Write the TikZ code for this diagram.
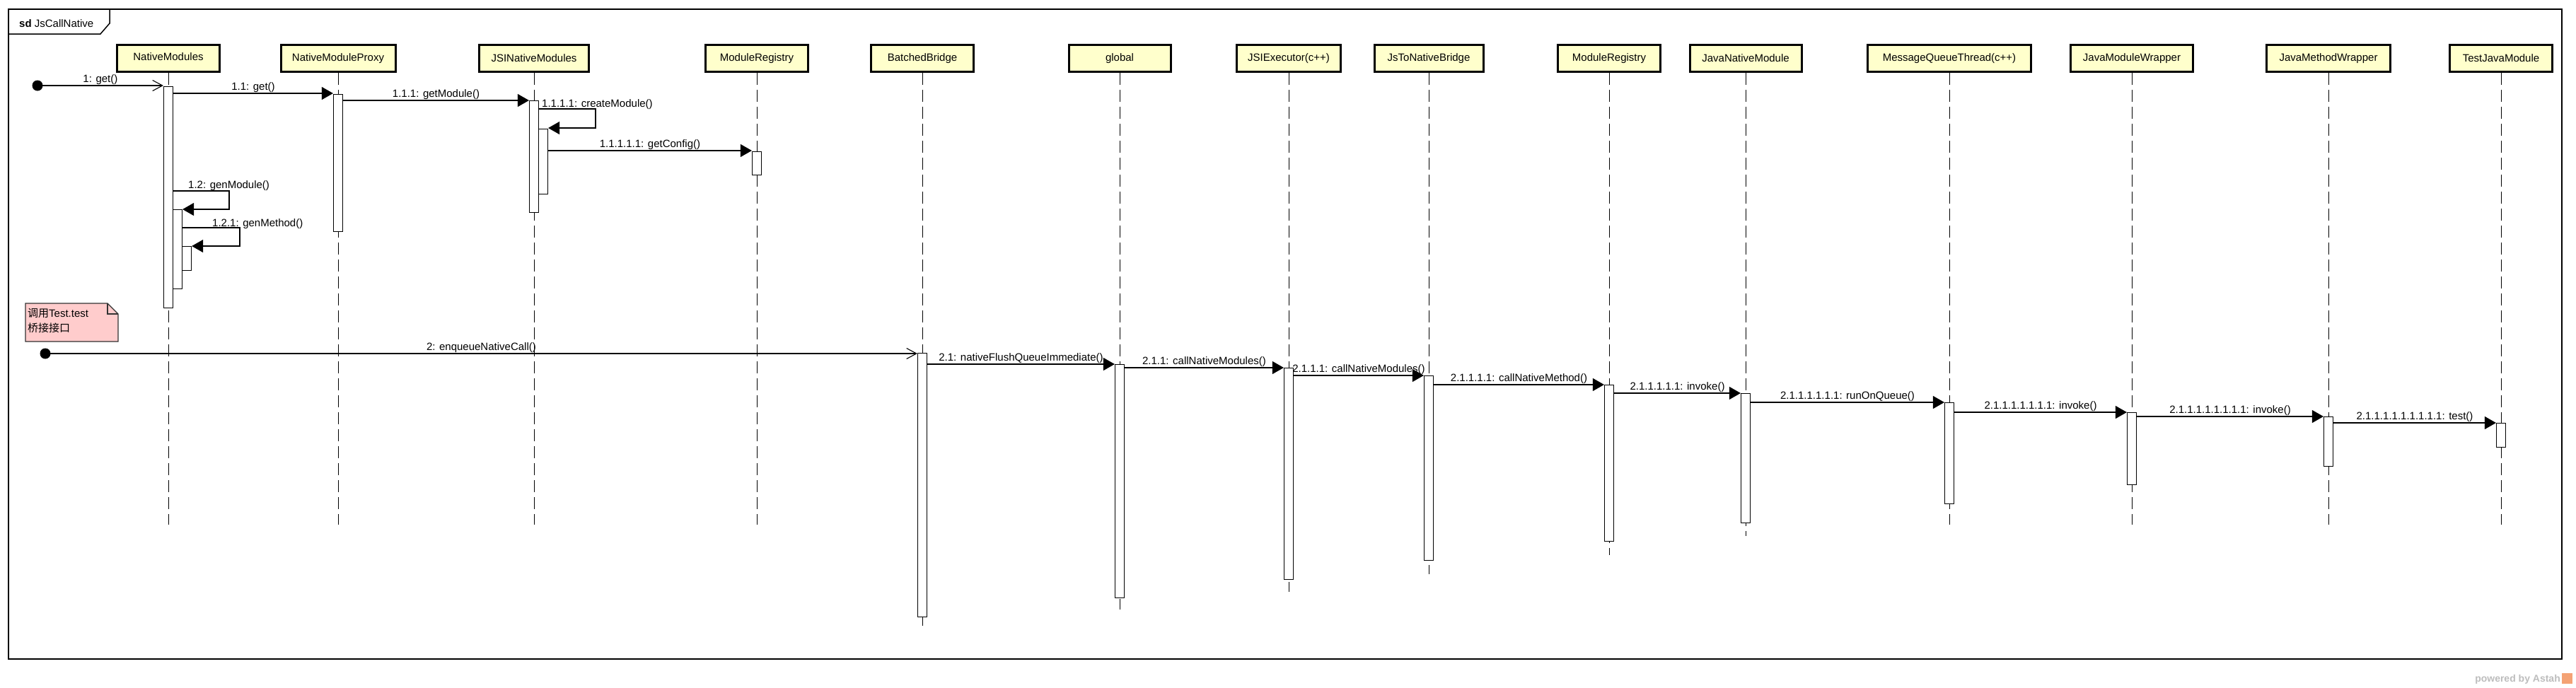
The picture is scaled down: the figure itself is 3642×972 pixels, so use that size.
\documentclass[tikz,border=0pt]{standalone}
\usepackage{fontspec}
\setmainfont{Liberation Sans}
\newfontfamily\cjk{Noto Sans CJK SC}
\usetikzlibrary{arrows.meta}
\definecolor{boxfill}{HTML}{FFFFCC}
\definecolor{notefill}{HTML}{FFCCCC}
\definecolor{logogrey}{HTML}{BDBDBD}
\definecolor{logoorange}{HTML}{F4A274}
\begin{document}
\begin{tikzpicture}[x=1pt,y=-1pt,
  every node/.style={font=\fontsize{15}{18}\selectfont},
  lifebox/.style={draw, line width=3pt, fill=boxfill, minimum height=38pt, inner sep=0pt, anchor=center},
  lifeline/.style={line width=1pt, dash pattern=on 17pt off 7pt},
  actbar/.style={draw, line width=1.2pt, fill=white, minimum width=13pt, inner sep=0pt, anchor=north},
  msg/.style={line width=1.1pt, -{Triangle[length=16pt,width=18pt]}},
  found/.style={line width=1.1pt, -{Straight Barb[length=14pt,width=15pt]}},
  startdot/.style={circle, fill=black, minimum size=15pt, inner sep=0pt},
  lbl/.style={anchor=base, inner sep=0pt, yshift=5pt},
  lbll/.style={anchor=base west, inner sep=0pt},
]
\useasboundingbox (0,0) rectangle (3642,972);
\fill[white] (0,0) rectangle (3642,972);

% frame
\draw[line width=1.5pt] (12,13) rectangle (3622,932);
\draw[line width=1.5pt] (12,13) -- (155,13) -- (155,33) -- (142,48) -- (12,48);
\node[anchor=base west, inner sep=0pt] (sdl) at (27,38) {\textbf{sd} JsCallNative};

% lifeline heads
\node[lifebox, minimum width=145pt] (nm)  at (238,82.5)  {\raisebox{4pt}{NativeModules}};
\node[lifebox, minimum width=162pt] (px)  at (478,82.5)  {NativeModuleProxy};
\node[lifebox, minimum width=155pt] (jsi) at (755,82.5)  {JSINativeModules};
\node[lifebox, minimum width=145pt] (mr)  at (1070,82.5) {ModuleRegistry};
\node[lifebox, minimum width=145pt] (bb)  at (1304,82.5) {BatchedBridge};
\node[lifebox, minimum width=144pt] (gl)  at (1583,82.5) {global};
\node[lifebox, minimum width=147pt] (je)  at (1822,82.5) {JSIExecutor(c++)};
\node[lifebox, minimum width=154pt] (jn)  at (2020,82.5) {JsToNativeBridge};
\node[lifebox, minimum width=145pt] (mr2) at (2275,82.5) {ModuleRegistry};
\node[lifebox, minimum width=158pt] (jnm) at (2468,82.5) {JavaNativeModule};
\node[lifebox, minimum width=231pt] (mq)  at (2756,82.5) {MessageQueueThread(c++)};
\node[lifebox, minimum width=173pt] (jmw) at (3014,82.5) {JavaModuleWrapper};
\node[lifebox, minimum width=175pt] (jme) at (3292,82.5) {JavaMethodWrapper};
\node[lifebox, minimum width=145pt] (tj)  at (3536,82.5) {TestJavaModule};

% lifelines
\foreach \n/\e in {nm/742, px/742, jsi/742, mr/742, bb/885, gl/862, je/837, jn/812, mr2/785, jnm/758, mq/742, jmw/742, jme/742, tj/742}
  \draw[lifeline] (\n.south) -- (\n.south |- 0,\e);

% activation bars
\node[actbar, minimum height=313pt] (nmA1) at (238,122) {};
\node[actbar, minimum height=112pt] (nmA2) at (251,296) {};
\node[actbar, minimum height=34pt]  (nmA3) at (264,348) {};
\node[actbar, minimum height=194pt] (pxA)  at (478,133) {};
\node[actbar, minimum height=158pt] (jsiA1) at (755,142) {};
\node[actbar, minimum height=92pt]  (jsiA2) at (768,182) {};
\node[actbar, minimum height=33pt]  (mrA)  at (1070,214) {};
\node[actbar, minimum height=373pt] (bbA)  at (1304,499) {};
\node[actbar, minimum height=330pt] (glA)  at (1583,515) {};
\node[actbar, minimum height=299pt] (jeA)  at (1822,520) {};
\node[actbar, minimum height=261pt] (jnA)  at (2020,531) {};
\node[actbar, minimum height=221pt] (mr2A) at (2275,544) {};
\node[actbar, minimum height=183pt] (jnmA) at (2468,556) {};
\node[actbar, minimum height=143pt] (mqA)  at (2756,569) {};
\node[actbar, minimum height=102pt] (jmwA) at (3014,583) {};
\node[actbar, minimum height=70pt]  (jmeA) at (3292,589) {};
\node[actbar, minimum height=34pt]  (tjA)  at (3536,598) {};

% messages, first sequence
\node[startdot] (f1) at (53,121) {};
\draw[found] (f1.center) -- (nmA1.west |- f1) node[lbl, midway] {1: get()};
\draw[msg] (nmA1.east |- 0,132) -- (pxA.west |- 0,132) node[lbl, midway] {1.1: get()};
\draw[msg] (pxA.east |- 0,142) -- (jsiA1.west |- 0,142) node[lbl, midway] {1.1.1: getModule()};
\draw[msg] (jsiA1.east |- 0,154) -- (842,154) -- (842,181) -- (jsiA2.east |- 0,181);
\node[lbll] (l1111) at (766,151) {1.1.1.1: createModule()};
\draw[msg] (jsiA2.east |- 0,213) -- (mrA.west |- 0,213) node[lbl, midway] {1.1.1.1.1: getConfig()};
\draw[msg] (nmA1.east |- 0,270) -- (324,270) -- (324,296) -- (nmA2.east |- 0,296);
\node[lbll] (l12) at (266,266) {1.2: genModule()};
\draw[msg] (nmA2.east |- 0,322) -- (339,322) -- (339,348) -- (nmA3.east |- 0,348);
\node[lbll] (l121) at (300,320) {1.2.1: genMethod()};

% note
\draw[line width=1.2pt, draw=black!80, fill=notefill] (36,429) -- (152,429) -- (167,444) -- (167,483) -- (36,483) -- cycle;
\draw[line width=1.2pt, draw=black!80] (152,429) -- (152,444) -- (167,444);
\node[anchor=base west, inner sep=0pt] (n1) at (39,448) {{\cjk 调用}Test.test};
\node[anchor=base west, inner sep=0pt] (n2) at (39,469) {{\cjk 桥接接口}};

% second sequence
\node[startdot] (f2) at (64,500) {};
\draw[found] (f2.center) -- (bbA.west |- f2) node[lbl, midway] {2: enqueueNativeCall()};
\draw[msg] (bbA.east |- 0,515) -- (glA.west |- 0,515) node[lbl, midway] {2.1: nativeFlushQueueImmediate()};
\draw[msg] (glA.east |- 0,520) -- (jeA.west |- 0,520) node[lbl, midway] {2.1.1: callNativeModules()};
\draw[msg] (jeA.east |- 0,531) -- (jnA.west |- 0,531) node[lbl, midway] {2.1.1.1: callNativeModules()};
\draw[msg] (jnA.east |- 0,544) -- (mr2A.west |- 0,544) node[lbl, midway] {2.1.1.1.1: callNativeMethod()};
\draw[msg] (mr2A.east |- 0,556) -- (jnmA.west |- 0,556) node[lbl, midway] {2.1.1.1.1.1: invoke()};
\draw[msg] (jnmA.east |- 0,569) -- (mqA.west |- 0,569) node[lbl, midway] {2.1.1.1.1.1.1: runOnQueue()};
\draw[msg] (mqA.east |- 0,583) -- (jmwA.west |- 0,583) node[lbl, midway] {2.1.1.1.1.1.1.1: invoke()};
\draw[msg] (jmwA.east |- 0,589) -- (jmeA.west |- 0,589) node[lbl, midway] {2.1.1.1.1.1.1.1.1: invoke()};
\draw[msg] (jmeA.east |- 0,598) -- (tjA.west |- 0,598) node[lbl, midway] {2.1.1.1.1.1.1.1.1.1: test()};

% logo
\node[anchor=base east, inner sep=0pt, font=\fontsize{14}{16}\selectfont\bfseries, text=logogrey] (pw) at (3620,964) {powered by Astah};
\fill[logoorange] (3622,952) rectangle (3637,967);
\end{tikzpicture}
\end{document}
